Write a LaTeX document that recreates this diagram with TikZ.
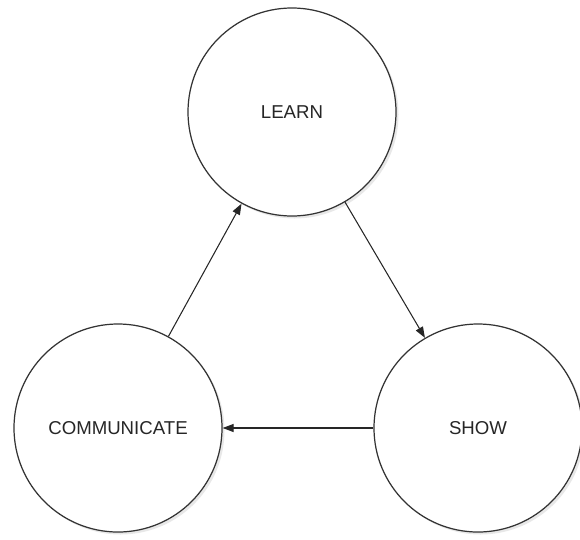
\documentclass[tikz,border=0pt]{standalone}
\usepackage{fontspec}
\setmainfont{Liberation Sans}
\usetikzlibrary{arrows.meta,shadows}

\begin{document}
\begin{tikzpicture}[scale=0.2]
\tikzstyle{every node}+=[inner sep=0pt]
\tikzstyle{stage}=[draw=black!80, circle, line width=0.7pt, minimum size=4.16cm, fill=white, text=black!85, font=\fontsize{10.6}{13}\selectfont, drop shadow={opacity=0.18, shadow xshift=0.5mm, shadow yshift=-0.5mm}]
\tikzstyle{flow}=[draw=black!85, line width=0.6pt, -{Triangle[length=2.2mm,width=1.6mm]}]
\useasboundingbox (0,0) rectangle (58,-53.9);
\node [stage] (learn) at (29.2,-11.2) {LEARN};
\node [stage] (show) at (47.8,-42.8) {SHOW};
\node [stage] (comm) at (11.8,-42.8) {COMMUNICATE};
\draw [flow] (learn) -- (show);
\draw [flow] (show) -- (comm);
\draw [flow] (comm) -- (learn);
\end{tikzpicture}
\end{document}
